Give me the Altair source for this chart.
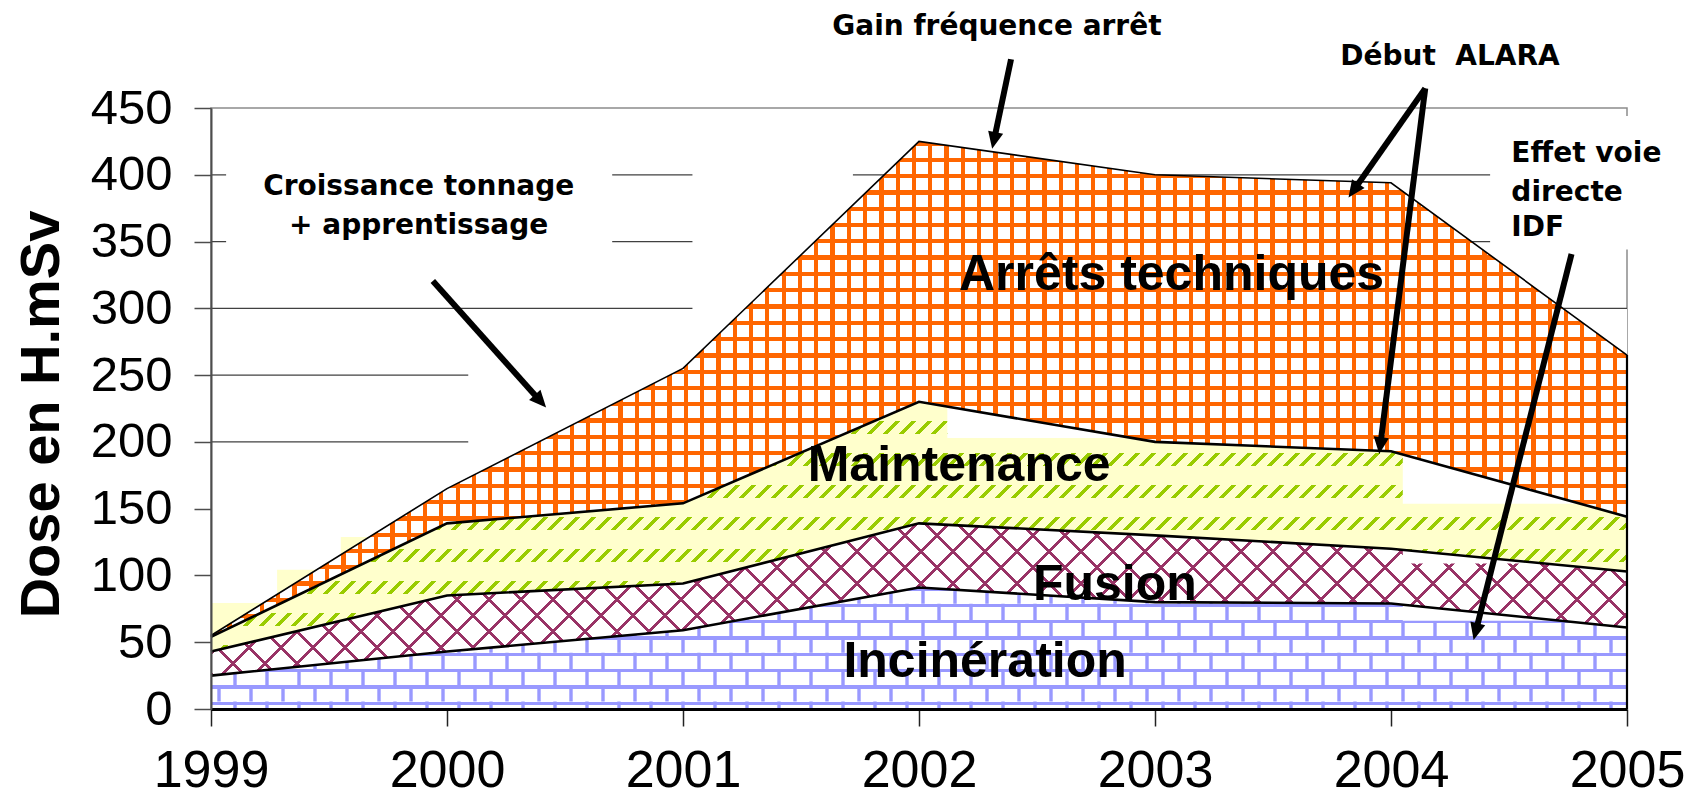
import math
import altair as alt
import pandas as pd

# ---------------- data ----------------
years = [1999, 2000, 2001, 2002, 2003, 2004, 2005]
incineration = [25, 43, 59, 91, 80, 79, 61]
fusion = [18, 42, 35, 48, 50, 41, 42]
maintenance = [11, 54, 60, 91, 70, 73, 41]
arrets = [1, 26, 101, 195, 200, 201, 121]
series_keys = ["inc", "fus", "mai", "arr"]
series_labels = ["Incinération", "Fusion", "Maintenance", "Arrêts techniques"]

y_ticks = [0, 50, 100, 150, 200, 250, 300, 350, 400, 450]
grid_values = [200, 250, 300, 350, 400]

# in-plot series labels (data coordinates of label centre / baseline)
label_x = [2002.28, 2002.83, 2002.17, 2003.07]
label_y = [24.2, 81.6, 170.7, 314]

# annotations
note_text = ["Croissance tonnage", "+ apprentissage", "Gain fréquence arrêt", "Début\u00a0 ALARA"]
note_x = [1999.88, 1999.88, 2002.33, 2004.25]
note_y = [385, 356, 505, 482]
side_text = ["Effet voie", "directe", "IDF"]
side_x = [2004.51, 2004.51, 2004.51]
side_y = [409.6, 380.4, 354.5]

arrow_x0 = [1999.94, 2002.39, 2004.145, 2004.145, 2004.765]
arrow_y0 = [320.5, 486.5, 464.7, 464.7, 340.7]
arrow_x1 = [2000.42, 2002.31, 2003.82, 2003.95, 2004.35]
arrow_y1 = [225.7, 419.4, 382.9, 190.9, 51.7]

# white backgrounds of the annotation boxes (hide grid parts)
box_x0 = [1999.064, 2000.09, 2001.04, 2004.42]
box_x1 = [2000.70, 2001.10, 2001.72, 2005.10]
box_y0 = [330, 185, 290, 344]
box_y1 = [420, 275, 430, 444]

# pale yellow steps of the maintenance fill at the left
tint_x0 = [1999.0, 1999.28, 1999.55]
tint_x1 = [1999.28, 1999.55, 1999.80]
tint_y0 = [40, 40, 40]
tint_y1 = [79.4, 104.3, 128.8]

# blank parts of the pattern fills
cut_key = ["inc", "fus", "mai", "mai"]
cut_x0 = [2004.05, 2004.05, 2004.05, 2002.12]
cut_x1 = [2005.0, 2005.0, 2005.0, 2003.0]
cut_y0 = [66, 109, 153.6, 203]
cut_y1 = [80, 124, 200, 236]

# ---------------- geometry / styles ----------------
W, H = 1416, 601
ppu = H / 450.0
ppy = W / 6.0

ORANGE = "#FF6600"
GREEN = "#99CC00"
YELLOW = "#FFFFCC"
MAROON = "#993366"
LAVENDER = "#9999FF"
WHITE = "#FFFFFF"
CLEAR = "rgba(255,255,255,0)"

inc_top = incineration
fus_top = [a + b for a, b in zip(inc_top, fusion)]
mai_top = [a + b for a, b in zip(fus_top, maintenance)]
tot_top = [a + b for a, b in zip(mai_top, arrets)]

h_inc = max(inc_top) * ppu
h_fus = (max(fus_top) - min(inc_top)) * ppu
h_mai = (max(mai_top) - min(fus_top)) * ppu
h_arr = (max(tot_top) - min(mai_top)) * ppu


def stripes(n, duty, line, bg, x1, y1, x2, y2):
    stops = []
    for i in range(n):
        a = round(i / n, 6)
        b = round((i + duty) / n, 6)
        c = round((i + 1) / n, 6)
        stops += [{"offset": a, "color": line}, {"offset": b, "color": line},
                  {"offset": b, "color": bg}, {"offset": c, "color": bg}]
    return {"gradient": "linear", "stops": stops, "x1": x1, "y1": y1, "x2": x2, "y2": y2}


def vstripes(period, duty, line, bg):
    n = math.ceil(W / period)
    return stripes(n, duty, line, bg, 0, 0, n * period / W, 0)


def hstripes(period, hbox, duty, line, bg):
    n = math.ceil(hbox / period)
    return stripes(n, duty, line, bg, 0, 0, 0, n * period / hbox)


def diag(period, hbox, duty, line, bg, slash=True):
    r = hbox / W
    n = math.ceil((W + hbox) / period)
    k = n * period / (W * (1 + r * r))
    if slash:
        return stripes(n, duty, line, bg, 0, 0, k, k * r)
    return stripes(n, duty, line, bg, 0, 1, k, 1 - k * r)


XS = alt.Scale(domain=[1999, 2005], nice=False, zero=False)
YS = alt.Scale(domain=[0, 450], nice=False, zero=True)

x_axis = alt.Axis(values=years, format="d", title=None, grid=False, labelFont="Liberation Sans",
                  labelFontSize=52, labelColor="black", labelPadding=19, labelFlush=False,
                  labelOverlap=False, tickSize=17, tickColor="#222222", tickWidth=1.5,
                  domainColor="black", domainWidth=3, zindex=1)
y_axis = alt.Axis(values=y_ticks, title="Dose en H.mSv", grid=False, labelFont="Liberation Sans",
                  labelFontSize=49, labelColor="black", labelPadding=22, labelOverlap=False,
                  tickSize=17, tickColor="#4d4d4d", tickWidth=1.5, domainColor="#4d4d4d",
                  domainWidth=2, titleFont="Liberation Sans", titleFontSize=56,
                  titleFontWeight="bold", titleColor="black", titleAngle=270,
                  titleAlign="center", titleBaseline="middle", titleX=-170, titleY=306, zindex=1)


def X(f):
    return alt.X(f, type="quantitative", scale=XS, axis=x_axis)


def Y(f):
    return alt.Y(f, type="quantitative", scale=YS, axis=y_axis)


# ---------------- tables ----------------
rows = []
for k, vals in zip(series_keys, [incineration, fusion, maintenance, arrets]):
    for yr, v in zip(years, vals):
        rows.append({"year": yr, "s": k, "dose": v, "order": series_keys.index(k)})
df = pd.DataFrame(rows)

base = alt.Chart(df).transform_stack(
    stack="dose", groupby=["year"], as_=["y0", "y1"],
    sort=[alt.SortField("order", order="ascending")])


def area(key, fill):
    return base.transform_filter(alt.datum.s == key).mark_area(fill=fill, strokeWidth=0).encode(
        x=X("year"), y=Y("y1"), y2=alt.Y2("y0"))


def rects(x0, x1, y0, y1, color):
    d = pd.DataFrame({"bx0": x0, "bx1": x1, "by0": y0, "by1": y1})
    return alt.Chart(d).mark_rect(color=color, opacity=1, strokeWidth=0).encode(
        x=X("bx0"), x2=alt.X2("bx1"), y=Y("by0"), y2=alt.Y2("by1"))


def cut(key):
    idx = [i for i, k in enumerate(cut_key) if k == key]
    return rects([cut_x0[i] for i in idx], [cut_x1[i] for i in idx],
                 [cut_y0[i] for i in idx], [cut_y1[i] for i in idx], WHITE)


grid = alt.Chart(pd.DataFrame({"g": grid_values})).mark_rule(
    color="#404040", strokeWidth=1.2).encode(y=Y("g"))

boxes = rects(box_x0, box_x1, box_y0, box_y1, WHITE)
tints = rects(tint_x0, tint_x1, tint_y0, tint_y1, YELLOW)

# ---- brick pattern of Incinération: horizontal courses + staggered joints ----
ROW = 16.3
BRICK = 32.0
inc_rows = area("inc", hstripes(ROW, h_inc, 0.2, LAVENDER, WHITE))
joint_top = max(inc_top)


def joints(phase):
    xs = []
    px = 8.0 + phase
    while px < W - 1:
        xs.append(1999 + px / ppy)
        px += BRICK
    d = pd.DataFrame({"jx": xs, "jt": [joint_top] * len(xs), "jb": [0] * len(xs)})
    return alt.Chart(d).mark_rule(
        color=LAVENDER, strokeWidth=3.4, strokeDash=[ROW, ROW],
        strokeDashOffset=(ROW if phase else 0)).encode(
        x=X("jx"), y=Y("jt"), y2=alt.Y2("jb"))


joints_a = joints(0.0)
joints_b = joints(BRICK / 2)
# white cover above the total so that the joints never show outside the stack
mask = base.transform_filter(alt.datum.s == "arr").mark_area(fill=WHITE, strokeWidth=0).encode(
    x=X("year"), y=Y("y1"), y2=alt.Y2Datum(300))

# other pattern fills
fus1 = area("fus", diag(32, h_fus, 0.12, MAROON, WHITE, slash=True))
fus2 = area("fus", diag(32, h_fus, 0.12, MAROON, CLEAR, slash=False))
mai1 = area("mai", diag(16, h_mai, 0.27, GREEN, YELLOW, slash=True))
mai2 = area("mai", hstripes(32, h_mai, 0.6, YELLOW, CLEAR))
arr1 = area("arr", vstripes(16.3, 0.26, ORANGE, WHITE))
arr2 = area("arr", hstripes(16.3, h_arr, 0.26, ORANGE, CLEAR))

inner_lines = base.transform_filter(alt.datum.s != "arr").mark_line(
    color="black", strokeWidth=2.6).encode(x=X("year"), y=Y("y1"), detail="s:N")
top_line = base.transform_filter(alt.datum.s == "arr").mark_line(
    color="black", strokeWidth=1.6).encode(x=X("year"), y=Y("y1"))
right_edge = base.transform_filter((alt.datum.s == "arr") & (alt.datum.year == 2005)).mark_rule(
    color="black", strokeWidth=2.2).encode(x=X("year"), y=Y("y1"), y2=alt.Y2Datum(0))

labels = alt.Chart(pd.DataFrame({"t": series_labels, "lx": label_x, "ly": label_y})).mark_text(
    font="Liberation Sans", fontWeight="bold", fontSize=50, align="center",
    baseline="alphabetic", color="black").encode(x=X("lx"), y=Y("ly"), text="t:N")

notes = alt.Chart(pd.DataFrame({"t": note_text, "nx": note_x, "ny": note_y})).mark_text(
    font="DejaVu Sans", fontWeight="bold", fontSize=28, align="center",
    baseline="alphabetic", color="black").encode(x=X("nx"), y=Y("ny"), text="t:N")

side = alt.Chart(pd.DataFrame({"t": side_text, "sx": side_x, "sy": side_y})).mark_text(
    font="DejaVu Sans", fontWeight="bold", fontSize=28, align="left",
    baseline="alphabetic", color="black").encode(x=X("sx"), y=Y("sy"), text="t:N")

# arrows: shaft ends a little before the tip, head rotated to the shaft direction
HEAD = 17.0
shaft_x1, shaft_y1, head_ang = [], [], []
for x0, y0, x1, y1 in zip(arrow_x0, arrow_y0, arrow_x1, arrow_y1):
    dx = (x1 - x0) * ppy
    dy = -(y1 - y0) * ppu
    ln = math.hypot(dx, dy)
    ux, uy = dx / ln, dy / ln
    shaft_x1.append(x1 - ux * HEAD * 0.6 / ppy)
    shaft_y1.append(y1 + uy * HEAD * 0.6 / ppu)
    head_ang.append(math.degrees(math.atan2(dx, -dy)) % 360)

arr_df = pd.DataFrame({"ax0": arrow_x0, "ay0": arrow_y0, "ax1": shaft_x1, "ay1": shaft_y1,
                       "tx": arrow_x1, "ty": arrow_y1, "ang": head_ang})
shafts = alt.Chart(arr_df).mark_rule(color="black", strokeWidth=6, strokeCap="butt").encode(
    x=X("ax0"), y=Y("ay0"), x2=alt.X2("ax1"), y2=alt.Y2("ay1"))
heads = alt.Chart(arr_df).mark_point(
    shape="M0,0L-0.45,1L0.45,1Z", filled=True, size=(2 * HEAD) ** 2, color="black",
    opacity=1).encode(x=X("tx"), y=Y("ty"), angle=alt.Angle("ang:Q", scale=None))

chart = alt.layer(
    inc_rows, joints_a, joints_b, mask,
    grid, boxes, tints,
    cut("inc"),
    fus1, fus2, cut("fus"),
    mai1, mai2, cut("mai"),
    arr1, arr2,
    inner_lines, top_line, right_edge,
    labels, notes, side, shafts, heads,
).properties(
    width=W, height=H,
    padding={"left": 203, "top": 100, "right": 61, "bottom": 94},
    autosize=alt.AutoSizeParams(type="none"),
    background="white",
).configure_view(stroke="#8c8c8c", strokeWidth=1.5)

chart.save("out.html", embed_options={"renderer": "svg", "actions": False})
